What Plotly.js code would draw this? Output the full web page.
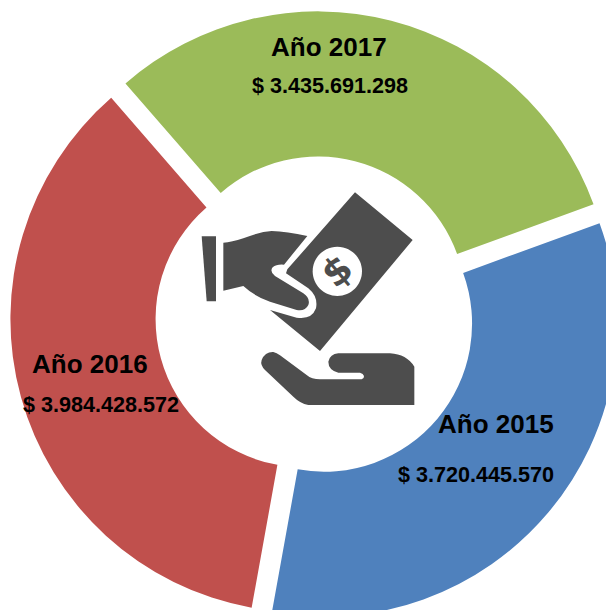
<!DOCTYPE html>
<html>
<head>
<meta charset="utf-8">
<script src="https://cdn.plot.ly/plotly-3.0.1.min.js"></script>
<style>html,body{margin:0;padding:0;background:#fff;overflow:hidden;width:606px;height:610px}</style>
</head>
<body>
<div id="chart"></div>
<script>
var categories = ["Año 2015", "Año 2016", "Año 2017"];
var values = [3720445570, 3984428572, 3435691298];
var valueLabels = ["$ 3.720.445.570", "$ 3.984.428.572", "$ 3.435.691.298"];
var colors = ["#4F81BD", "#C0504D", "#9BBB59"];
var labelCenters = [[496, 424], [90, 364], [329, 47]];
var valueCenters = [[476, 474], [101, 404], [330, 85]];
var iconColor = "#4D4D4D";

var W = 630, H = 632, M = 10, SX = W - 2 * M, SY = H - 2 * M;
function fx(px) { return (px - M) / SX; }
function fy(py) { return 1 - (py - M) / SY; }
// Icon outlines are written in a 3x local grid anchored at (180,170)
function path(cmds) {
  return cmds.replace(/(-?[\d.]+),(-?[\d.]+)/g, function (m, a, b) {
    return fx(180 + a / 3) + "," + fy(170 + b / 3);
  });
}
function iconShape(d, fill) {
  return { type: "path", xref: "paper", yref: "paper", layer: "above", path: path(d),
           fillcolor: fill, line: { width: 0 } };
}
var shapes = [
  iconShape("M65,199 L108,199 L108,394 L80,394 Z", iconColor),
  iconShape("M130,218 Q155,217 190,205 Q240,185 275,183 Q320,184 382,198 L312,284 Q290,282 278,292 Q268,305 285,318 L370,370 Q392,385 385,405 Q375,425 350,420 L270,395 Q225,380 190,348 L130,362 Z", iconColor),
  iconShape("M525,67 L698,210 L420,543 L270,420 L350,443 Q395,450 408,415 Q415,380 385,355 L318,310 L322,298 Z", iconColor),
  iconShape("M472,230 C513,230 546,263 546,304 C546,345 513,378 472,378 C431,378 398,345 398,304 C398,263 431,230 472,230 Z", "#FFFFFF"),
  iconShape("M245,570 Q255,545 280,546 Q290,548 300,556 L380,615 Q395,628 420,628 L545,628 Q553,625 552,618 Q550,610 540,608 L475,608 Q445,600 445,575 Q450,552 475,550 L630,550 Q680,553 703,590 L703,705 L385,705 Q360,700 340,680 L255,600 Q240,585 245,570 Z", iconColor)
];

var annotations = [];
function addText(txt, c, size) {
  annotations.push({ text: "<b>" + txt + "</b>", xref: "paper", yref: "paper", x: fx(c[0]), y: fy(c[1]),
    xanchor: "center", yanchor: "middle", showarrow: false,
    font: { family: "Liberation Sans, Arial, sans-serif", size: size, color: "#000000" } });
}
categories.forEach(function (c, i) {
  addText(c, labelCenters[i], 26);
  addText(valueLabels[i], valueCenters[i], 21.6);
});
annotations.push({ text: "<b>$</b>", xref: "paper", yref: "paper", x: fx(180 + 472 / 3), y: fy(170 + 304 / 3),
  xanchor: "center", yanchor: "middle", showarrow: false, textangle: -40,
  font: { family: "DejaVu Sans, sans-serif", size: 38, color: iconColor } });

Plotly.newPlot("chart", [{
  type: "pie",
  labels: categories,
  values: values,
  sort: false,
  direction: "clockwise",
  rotation: 70,
  hole: 0.505,
  pull: 0.04,
  textinfo: "none",
  hoverinfo: "skip",
  showlegend: false,
  marker: { colors: colors, line: { width: 0 } }
}], {
  width: W, height: H,
  margin: { l: M, r: M, t: M, b: M },
  paper_bgcolor: "#FFFFFF",
  showlegend: false,
  shapes: shapes,
  annotations: annotations
}, { displayModeBar: false, staticPlot: true });
</script>
</body>
</html>
